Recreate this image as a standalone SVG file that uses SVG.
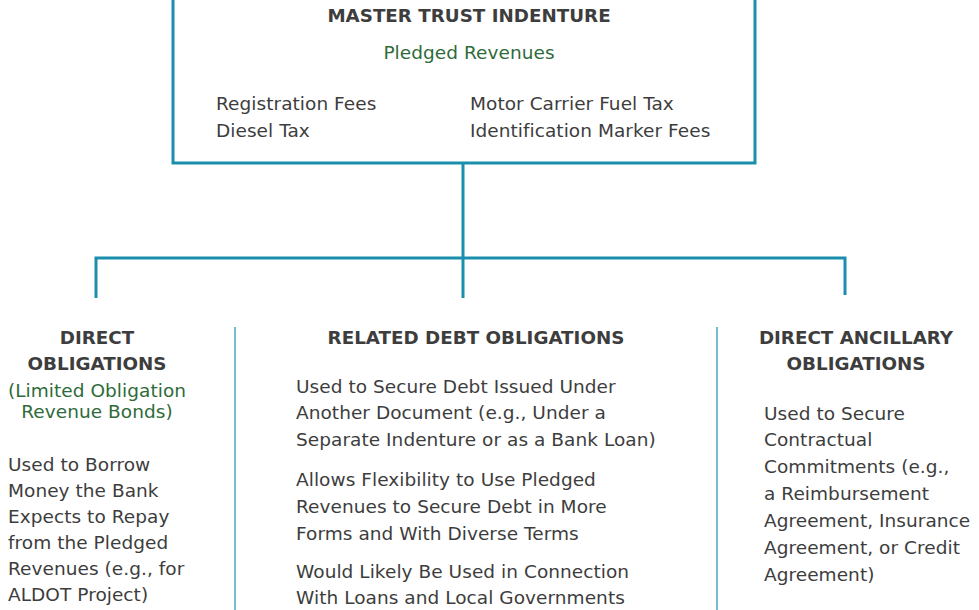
<svg xmlns="http://www.w3.org/2000/svg" width="979" height="610" viewBox="0 0 979 610">
<style>
text{font-family:"DejaVu Sans","Liberation Sans",sans-serif;fill:#3d3d3d;font-size:18.5px;letter-spacing:0.05px}
.h{font-weight:bold;text-anchor:middle;font-size:18.3px;letter-spacing:0}
.g{fill:#2f6b3a;text-anchor:middle}
.ln{stroke:#1a8fad;stroke-width:3;fill:none}
.dv{stroke:#4aa7c2;stroke-width:1.5;fill:none}
</style>
<rect width="979" height="610" fill="#fff"/>
<g id="master">
<path class="ln" d="M173,0 V163 H755 V0"/>
<text class="h" x="469" y="22">MASTER TRUST INDENTURE</text>
<text class="g" x="469" y="59">Pledged Revenues</text>
<text x="216" y="110">Registration Fees</text>
<text x="216" y="137">Diesel Tax</text>
<text x="470" y="110">Motor Carrier Fuel Tax</text>
<text x="470" y="137">Identification Marker Fees</text>
</g>
<g id="connectors">
<path class="ln" d="M463,163 V298"/>
<path class="ln" d="M96,298 V258 H845 V295"/>
<path class="dv" d="M235,327 V610"/>
<path class="dv" d="M717,327 V610"/>
</g>
<g id="direct">
<text class="h" x="97" y="344">DIRECT</text>
<text class="h" x="97" y="370">OBLIGATIONS</text>
<text class="g" x="97" y="397">(Limited Obligation</text>
<text class="g" x="97" y="418">Revenue Bonds)</text>
<text x="8" y="471">Used to Borrow</text>
<text x="8" y="497">Money the Bank</text>
<text x="8" y="523">Expects to Repay</text>
<text x="8" y="549">from the Pledged</text>
<text x="8" y="575">Revenues (e.g., for</text>
<text x="8" y="601">ALDOT Project)</text>
</g>
<g id="related">
<text class="h" x="476" y="344">RELATED DEBT OBLIGATIONS</text>
<text x="296" y="393">Used to Secure Debt Issued Under</text>
<text x="296" y="419">Another Document (e.g., Under a</text>
<text x="296" y="446">Separate Indenture or as a Bank Loan)</text>
<text x="296" y="486">Allows Flexibility to Use Pledged</text>
<text x="296" y="513">Revenues to Secure Debt in More</text>
<text x="296" y="540">Forms and With Diverse Terms</text>
<text x="296" y="578">Would Likely Be Used in Connection</text>
<text x="296" y="604">With Loans and Local Governments</text>
</g>
<g id="ancillary">
<text class="h" x="856" y="344">DIRECT ANCILLARY</text>
<text class="h" x="856" y="370">OBLIGATIONS</text>
<text x="764" y="420">Used to Secure</text>
<text x="764" y="446">Contractual</text>
<text x="764" y="473">Commitments (e.g.,</text>
<text x="764" y="500">a Reimbursement</text>
<text x="764" y="527">Agreement, Insurance</text>
<text x="764" y="554">Agreement, or Credit</text>
<text x="764" y="581">Agreement)</text>
</g>
</svg>
